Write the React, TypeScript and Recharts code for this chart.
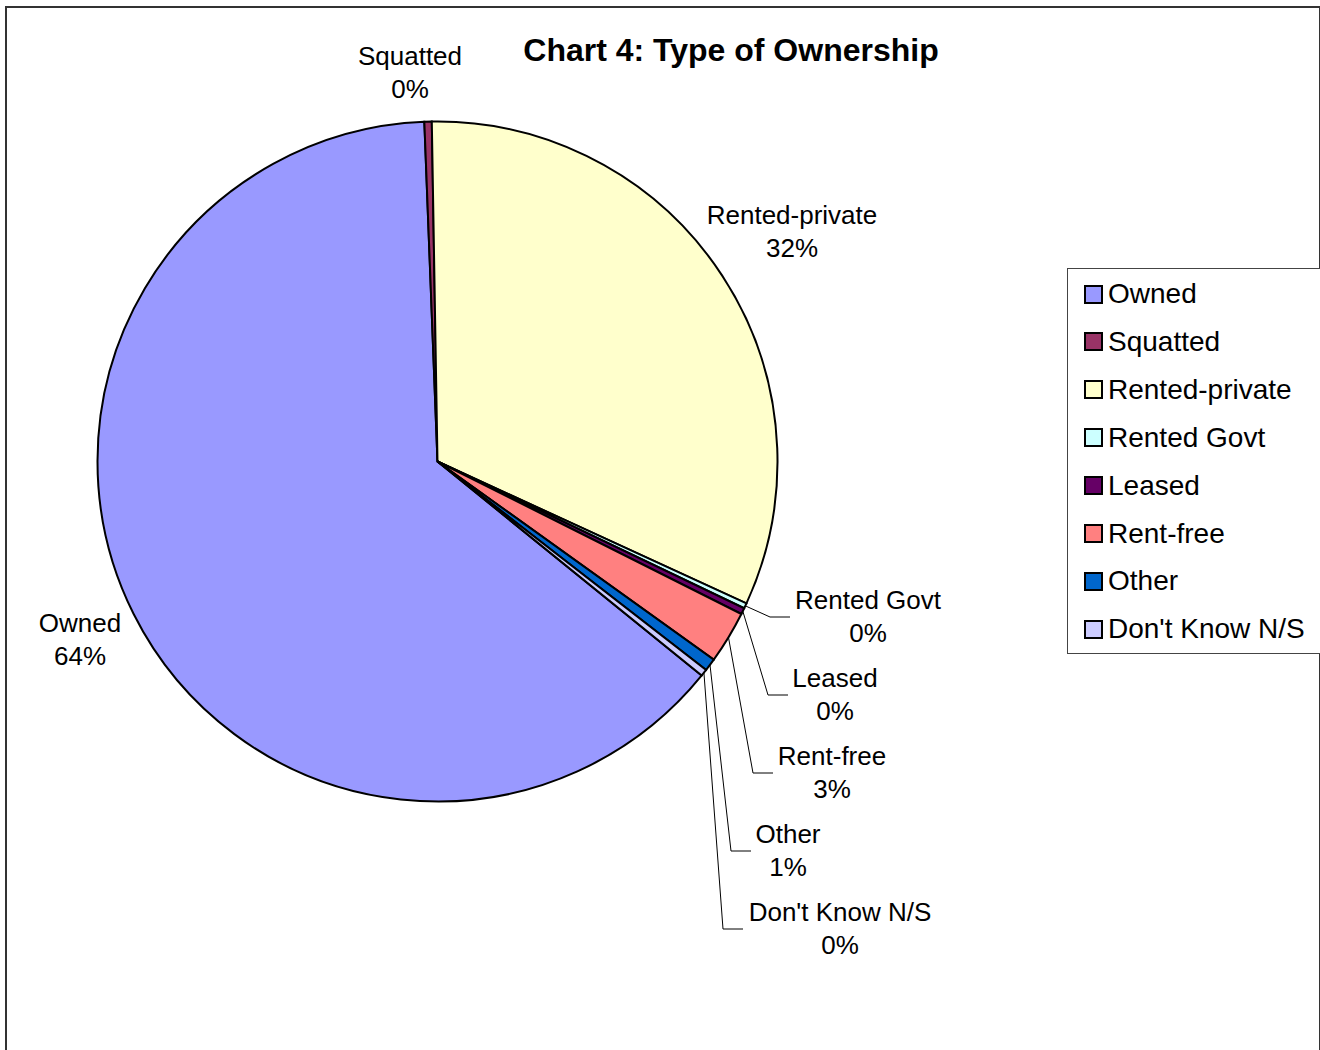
import React from 'react';
import { PieChart, Pie, Cell } from 'recharts';

const categories = ['Owned', 'Squatted', 'Rented-private', 'Rented Govt', 'Leased', 'Rent-free', 'Other', "Don't Know N/S"];
const shares = [63.55, 0.35, 32.12, 0.25, 0.3, 2.5, 0.6, 0.33];
const colors = ['#9999FF', '#993366', '#FFFFCC', '#CCFFFF', '#660066', '#FF8080', '#0066CC', '#CCCCFF'];

// label placement relative to pie centre: text centre (tx, ty), leader end x (lx) or null
const labelLayout = [
  { tx: -357.5, ty: 161.5, lx: null },
  { tx: -27.5, ty: -405.5, lx: null },
  { tx: 354.5, ty: -246.5, lx: null },
  { tx: 430.5, ty: 138.5, lx: 352.5 },
  { tx: 397.5, ty: 216.5, lx: 350.5 },
  { tx: 394.5, ty: 294.5, lx: 335.5 },
  { tx: 350.5, ty: 372.5, lx: 313.5 },
  { tx: 402.5, ty: 450.5, lx: 305.5 },
];

const data = categories.map((name, i) => ({ name, value: shares[i] }));

const FONT = '"Liberation Sans", Arial, sans-serif';
const RADIAN = Math.PI / 180;

const renderLabel = (props: any) => {
  const { cx, cy, midAngle, outerRadius, percent, index, name } = props;
  const lay = labelLayout[index];
  const tx = cx + lay.tx;
  const ty = cy + lay.ty;
  const pct = Math.round(percent * 100) + '%';
  let leader = null;
  if (lay.lx !== null) {
    const x0 = cx + outerRadius * Math.cos(-midAngle * RADIAN);
    const y0 = cy + outerRadius * Math.sin(-midAngle * RADIAN);
    const ly = ty + 17;
    const ex = cx + lay.lx;
    leader = (
      <polyline
        points={`${x0},${y0} ${ex - 20},${ly} ${ex},${ly}`}
        fill="none"
        stroke="#000"
        strokeWidth={1}
      />
    );
  }
  return (
    <g key={`lbl-${index}`}>
      {leader}
      <text x={tx} y={ty + 9} textAnchor="middle" fontFamily={FONT} fontSize={26} fill="#000">
        {name}
      </text>
      <text x={tx} y={ty + 42} textAnchor="middle" fontFamily={FONT} fontSize={26} fill="#000">
        {pct}
      </text>
    </g>
  );
};

export default function App() {
  return (
    <div style={{ position: 'absolute', left: 0, top: 0, width: 1320, height: 1050, background: '#fff', overflow: 'hidden' }}>
      <div
        style={{
          position: 'absolute',
          left: 5,
          top: 6,
          width: 1312,
          height: 1060,
          borderTop: '2px solid #333',
          borderLeft: '2px solid #333',
          borderRight: '2px solid #333',
        }}
      />
      <div style={{ position: 'absolute', left: 0, top: 0 }}>
        <PieChart width={1320} height={1050} margin={{ top: 0, right: 0, bottom: 0, left: 0 }}>
          <text x={731} y={61} textAnchor="middle" fontFamily={FONT} fontSize={32} fontWeight="bold" fill="#000">
            Chart 4: Type of Ownership
          </text>
          <Pie
            data={data}
            dataKey="value"
            nameKey="name"
            cx={437.5}
            cy={461.5}
            outerRadius={340}
            startAngle={-39}
            endAngle={-399}
            stroke="#000"
            strokeWidth={2}
            label={renderLabel}
            labelLine={false}
            isAnimationActive={false}
          >
            {data.map((d, i) => (
              <Cell key={d.name} fill={colors[i]} />
            ))}
          </Pie>
        </PieChart>
      </div>
      <div
        style={{
          position: 'absolute',
          left: 1067,
          top: 268,
          width: 260,
          height: 384,
          border: '1px solid #444',
          background: '#fff',
          fontFamily: FONT,
          fontSize: 28,
          color: '#000',
        }}
      >
        {categories.map((c, i) => (
          <div
            key={c}
            style={{ position: 'absolute', left: 0, top: 8 + i * 47.9, height: 34, display: 'flex', alignItems: 'center', whiteSpace: 'nowrap' }}
          >
            <span
              style={{
                display: 'inline-block',
                width: 15,
                height: 15,
                marginLeft: 16,
                marginRight: 5,
                background: colors[i],
                border: '2px solid #000',
              }}
            />
            <span>{c}</span>
          </div>
        ))}
      </div>
    </div>
  );
}
